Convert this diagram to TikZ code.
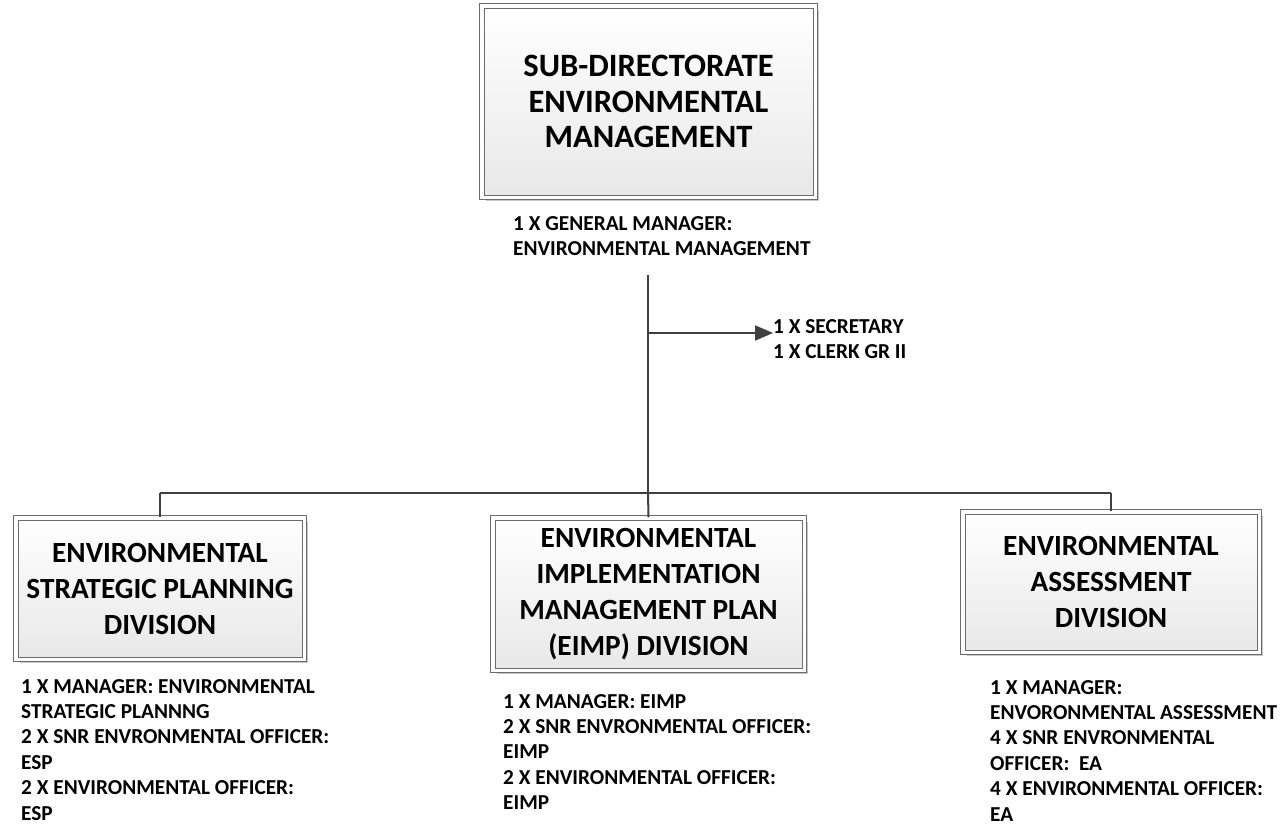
\documentclass[tikz,border=0pt]{standalone}
\usepackage{fontspec}
\setmainfont{Carlito}
\usetikzlibrary{arrows.meta,shadows}

\begin{document}
\begin{tikzpicture}[x=1pt, y=-1pt,
	unitbox/.style={draw=gray!85!black, line width=1pt, double=white, double distance=3.5pt,
		top color=white, bottom color=black!9, align=center, inner sep=0pt,
		font=\fontsize{29.3}{36}\selectfont\bfseries,
		drop shadow={shadow xshift=4pt, shadow yshift=-4pt, fill=black!22, opacity=1}},
	staff/.style={anchor=north west, align=left, inner sep=0pt, font=\fontsize{21.3}{25.4}\selectfont\bfseries},
	link/.style={draw=black!75, line width=2pt}]
	\useasboundingbox (0, 0) rectangle (1284, 825);
	% boxes
	\node [unitbox, minimum width=333.5, minimum height=191.5, font=\fontsize{32.6}{35.5}\selectfont\bfseries] (hq) at (648.5, 101.5) {SUB-DIRECTORATE\\ENVIRONMENTAL\\MANAGEMENT};
	\node [unitbox, minimum width=288.5, minimum height=141.5] (esp) at (160, 588.5) {ENVIRONMENTAL\\STRATEGIC PLANNING\\DIVISION};
	\node [unitbox, minimum width=311.5, minimum height=152.5] (eimp) at (648.5, 594) {ENVIRONMENTAL\\IMPLEMENTATION\\MANAGEMENT PLAN\\(EIMP) DIVISION};
	\node [unitbox, minimum width=296.5, minimum height=140.5] (ea) at (1111, 582) {ENVIRONMENTAL\\ASSESSMENT\\DIVISION};
	% staff lists
	\node [staff] (gmlabel) at (513, 216) {1 X GENERAL MANAGER:\\ENVIRONMENTAL MANAGEMENT};
	\node [staff] (seclabel) at (773, 319) {1 X SECRETARY\\1 X CLERK GR II};
	\node [staff] (esplist) at (21, 679) {1 X MANAGER: ENVIRONMENTAL\\STRATEGIC PLANNNG\\2 X SNR ENVRONMENTAL OFFICER:\\ESP\\2 X ENVIRONMENTAL OFFICER:\\ESP};
	\node [staff] (eimplist) at (503, 694) {1 X MANAGER: EIMP\\2 X SNR ENVRONMENTAL OFFICER:\\EIMP\\2 X ENVIRONMENTAL OFFICER:\\EIMP};
	\node [staff] (ealist) at (990, 680) {1 X MANAGER:\\ENVORONMENTAL ASSESSMENT\\4 X SNR ENVRONMENTAL\\OFFICER:\ \ EA\\4 X ENVIRONMENTAL OFFICER:\\EA};
	% connectors
	\coordinate (trunktop) at (648, 275);
	\coordinate (secjoin) at (648, 333);
	\coordinate (sectip) at (773, 333);
	\coordinate (busjoin) at (648, 493);
	\coordinate (busL) at (160, 493);
	\coordinate (busR) at (1111, 493);
	\draw [link] (trunktop) -- (busjoin);
	\draw [link, -{Triangle[length=18pt, width=15pt]}] (secjoin) -- (sectip);
	\draw [link] (busL) -- (busR);
	\draw [link] (busL) -- (esp.north);
	\draw [link] (busjoin) -- (eimp.north);
	\draw [link] (busR) -- (ea.north);
\end{tikzpicture}
\end{document}
